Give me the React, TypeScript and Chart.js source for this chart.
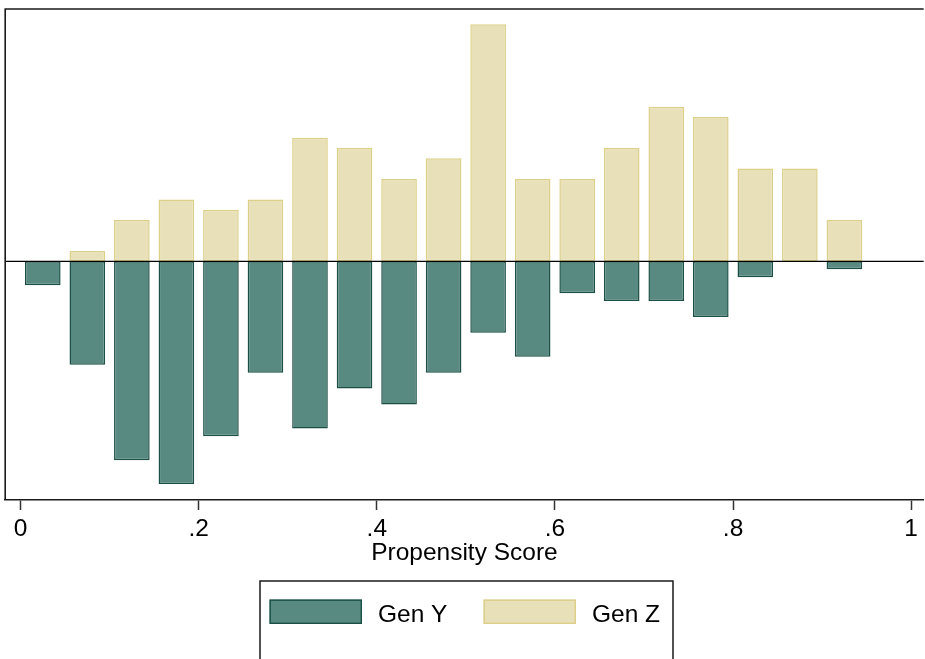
import React, { useEffect, useRef } from "react";
import { Chart, registerables } from "chart.js";

Chart.register(...registerables);

// ---- data ----
const binCenters = [
  0.025, 0.075, 0.125, 0.175, 0.225, 0.275, 0.325, 0.375, 0.425, 0.475,
  0.525, 0.575, 0.625, 0.675, 0.725, 0.775, 0.825, 0.875, 0.925,
];
// Gen Y density (mirrored below zero)
const genY = [
  -0.278, -1.205, -2.318, -2.596, -2.039, -1.298, -1.947, -1.483, -1.669, -1.298,
  -0.834, -1.112, -0.371, -0.464, -0.464, -0.649, -0.185, 0, -0.093,
];
// Gen Z density (above zero)
const genZ = [
  0, 0.12, 0.48, 0.72, 0.6, 0.72, 1.44, 1.32, 0.96, 1.2,
  2.76, 0.96, 0.96, 1.32, 1.8, 1.68, 1.08, 1.08, 0.48,
];
const tickValues = [0, 0.2, 0.4, 0.6, 0.8, 1];
const tickLabels = ["0", ".2", ".4", ".6", ".8", "1"];
const seriesNames = ["Gen Y", "Gen Z"];
const xTitle = "Propensity Score";

// ---- styles ----
const FONT = '"Liberation Sans", Arial, Helvetica, sans-serif';
const FONT_SIZE = 24.5;
const W = 925;
const H = 659;

const LEGEND = {
  left: 260,
  right: 673,
  top: 581,
  itemX: [269.5, 483.5],
  swW: 92.5,
  swH: 24.5,
  swTop: 599.5,
  gap: 16,
  baseline: 622,
};

const framePlugin = {
  id: "stataFrame",
  afterDatasetsDraw(chart: any) {
    const { ctx, chartArea: a, scales } = chart;
    const y0 = scales.y.getPixelForValue(0);
    ctx.save();
    ctx.strokeStyle = "#000";
    ctx.lineWidth = 1.2;
    ctx.beginPath();
    ctx.moveTo(a.left, y0);
    ctx.lineTo(a.right, y0);
    ctx.stroke();
    ctx.strokeStyle = "#1a1a1a";
    ctx.lineWidth = 1.6;
    ctx.beginPath();
    ctx.moveTo(a.right, a.top);
    ctx.lineTo(a.left, a.top);
    ctx.lineTo(a.left, a.bottom);
    ctx.stroke();
    ctx.restore();
  },
};

const legendPlugin = {
  id: "boxLegend",
  afterDraw(chart: any) {
    const { ctx } = chart;
    const L = LEGEND;
    ctx.save();
    ctx.strokeStyle = "#1a1a1a";
    ctx.lineWidth = 1.5;
    ctx.beginPath();
    ctx.moveTo(L.left, chart.height + 5);
    ctx.lineTo(L.left, L.top);
    ctx.lineTo(L.right, L.top);
    ctx.lineTo(L.right, chart.height + 5);
    ctx.stroke();
    chart.data.datasets.forEach((ds: any, i: number) => {
      const sx = L.itemX[i];
      ctx.fillStyle = ds.backgroundColor;
      ctx.fillRect(sx, L.swTop, L.swW, L.swH);
      ctx.strokeStyle = ds.borderColor;
      ctx.lineWidth = 1.4;
      ctx.strokeRect(sx + 0.7, L.swTop + 0.7, L.swW - 1.4, L.swH - 1.4);
      ctx.fillStyle = "#000";
      ctx.font = `${FONT_SIZE}px ${FONT}`;
      ctx.textAlign = "left";
      ctx.textBaseline = "alphabetic";
      ctx.fillText(ds.label, sx + L.swW + L.gap, L.baseline);
    });
    ctx.restore();
  },
};

export default function App() {
  const ref = useRef<HTMLCanvasElement | null>(null);

  useEffect(() => {
    if (!ref.current) return;
    const chart = new Chart(ref.current, {
      type: "bar",
      data: {
        datasets: [
          {
            label: seriesNames[0],
            data: binCenters.map((x, i) => ({ x, y: genY[i] })),
            backgroundColor: "#588a82",
            borderColor: "#1c5046",
            borderWidth: 1.5,
            borderSkipped: false,
            grouped: false,
            barPercentage: 0.8,
            categoryPercentage: 1,
          } as any,
          {
            label: seriesNames[1],
            data: binCenters.map((x, i) => ({ x, y: genZ[i] })),
            backgroundColor: "#e8e0b8",
            borderColor: "#dccf88",
            borderWidth: 1.5,
            borderSkipped: false,
            grouped: false,
            barPercentage: 0.8,
            categoryPercentage: 1,
          } as any,
        ],
      },
      options: {
        responsive: false,
        animation: false,
        devicePixelRatio: 1,
        layout: { padding: { left: 5.2, top: 9, right: 0, bottom: 93.5 } },
        plugins: {
          legend: { display: false },
          tooltip: { enabled: false },
        },
        scales: {
          x: {
            type: "linear",
            min: -0.0172,
            max: 1.014,
            offset: false,
            afterBuildTicks: (s: any) => {
              s.ticks = tickValues.map((v) => ({ value: v }));
            },
            ticks: {
              autoSkip: false,
              maxRotation: 0,
              padding: 7,
              color: "#000",
              font: { family: FONT, size: FONT_SIZE, lineHeight: 1 },
              callback: (v: any) => {
                const idx = tickValues.findIndex((t) => Math.abs(t - Number(v)) < 1e-9);
                return idx >= 0 ? tickLabels[idx] : "";
              },
            },
            grid: {
              display: true,
              offset: false,
              drawOnChartArea: false,
              drawTicks: true,
              tickLength: 10,
              tickColor: "#333",
              tickWidth: 1.5,
            },
            border: { display: true, color: "#1a1a1a", width: 1.6 },
            title: {
              display: true,
              text: xTitle,
              color: "#000",
              font: { family: FONT, size: FONT_SIZE, lineHeight: 1 },
              padding: { top: -7.5, bottom: 0 },
            },
          } as any,
          y: {
            type: "linear",
            display: false,
            min: -2.781,
            max: 2.939,
          },
        },
      },
      plugins: [framePlugin, legendPlugin],
    });
    return () => chart.destroy();
  }, []);

  return (
    <div style={{ position: "fixed", left: 0, top: 0, width: W, height: H, background: "#fff" }}>
      <canvas ref={ref} width={W} height={H} />
    </div>
  );
}
